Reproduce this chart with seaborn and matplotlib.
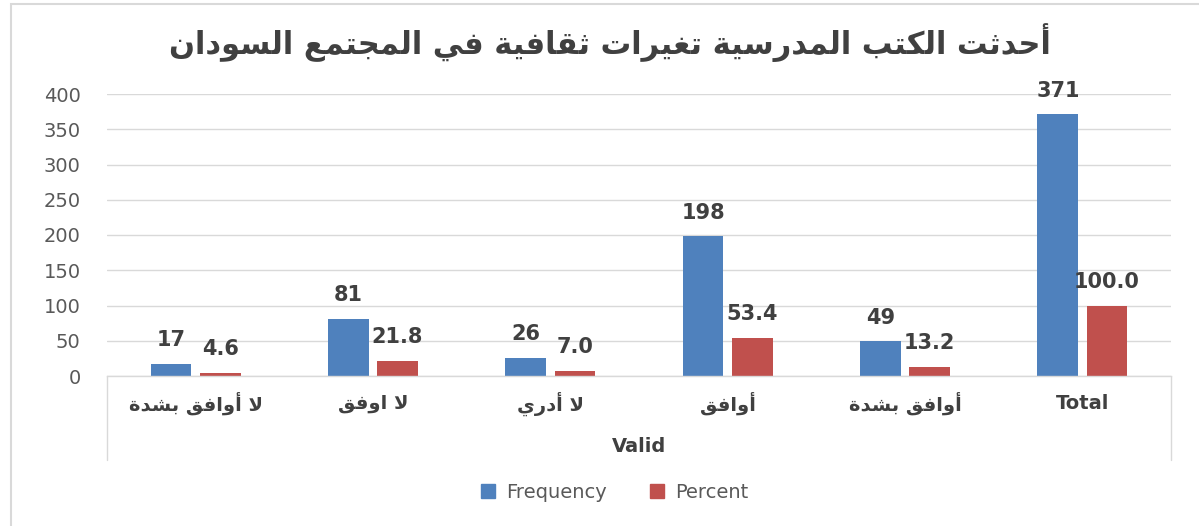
import matplotlib

matplotlib.use("Agg")
import matplotlib.pyplot as plt
import pandas as pd
import seaborn as sns
from matplotlib.patches import Patch, Rectangle


TITLE = "أحدثت الكتب المدرسية تغيرات ثقافية في المجتمع السودان"
CATEGORIES = ["لا أوافق بشدة", "لا اوفق", "لا أدري", "أوافق", "أوافق بشدة", "Total"]
FREQUENCY = [17, 81, 26, 198, 49, 371]
PERCENT = [4.6, 21.8, 7.0, 53.4, 13.2, 100.0]
SERIES = ["Frequency", "Percent"]
GROUP_LABEL = "Valid"
Y_TICKS = [0, 50, 100, 150, 200, 250, 300, 350, 400]

PALETTE = {"Frequency": "#4F81BD", "Percent": "#C0504D"}
DARK = "#404040"
MID = "#595959"
LINE = "#d9d9d9"

# matplotlib has no Arabic shaping, so map letters to their presentation
# forms by hand: letter -> (first form code, joins on both sides)
JOINING = {
    0x0622: (0xFE81, False), 0x0623: (0xFE83, False), 0x0624: (0xFE85, False),
    0x0625: (0xFE87, False), 0x0626: (0xFE89, True), 0x0627: (0xFE8D, False),
    0x0628: (0xFE8F, True), 0x0629: (0xFE93, False), 0x062A: (0xFE95, True),
    0x062B: (0xFE99, True), 0x062C: (0xFE9D, True), 0x062D: (0xFEA1, True),
    0x062E: (0xFEA5, True), 0x062F: (0xFEA9, False), 0x0630: (0xFEAB, False),
    0x0631: (0xFEAD, False), 0x0632: (0xFEAF, False), 0x0633: (0xFEB1, True),
    0x0634: (0xFEB5, True), 0x0635: (0xFEB9, True), 0x0636: (0xFEBD, True),
    0x0637: (0xFEC1, True), 0x0638: (0xFEC5, True), 0x0639: (0xFEC9, True),
    0x063A: (0xFECD, True), 0x0641: (0xFED1, True), 0x0642: (0xFED5, True),
    0x0643: (0xFED9, True), 0x0644: (0xFEDD, True), 0x0645: (0xFEE1, True),
    0x0646: (0xFEE5, True), 0x0647: (0xFEE9, True), 0x0648: (0xFEED, False),
    0x0649: (0xFEEF, False), 0x064A: (0xFEF1, True),
}
LAM_ALEF = {0x0622: 0xFEF5, 0x0623: 0xFEF7, 0x0625: 0xFEF9, 0x0627: 0xFEFB}


def rtl(text):
    if not any(ord(c) in JOINING for c in text):
        return text
    units = []
    i = 0
    while i < len(text):
        code = ord(text[i])
        nxt = ord(text[i + 1]) if i + 1 < len(text) else None
        if code == 0x0644 and nxt in LAM_ALEF:
            units.append((LAM_ALEF[nxt], False))
            i += 2
            continue
        units.append(JOINING.get(code, (text[i], None)))
        i += 1

    form = {(False, False): 0, (True, False): 1, (False, True): 2, (True, True): 3}
    out = []
    for k, (base, dual) in enumerate(units):
        if dual is None:
            out.append(base)
            continue
        joins_prev = k > 0 and units[k - 1][1] is True
        joins_next = dual and k + 1 < len(units) and units[k + 1][1] is not None
        out.append(chr(base + form[(joins_prev, joins_next)]))
    return "".join(reversed(out))


def main():
    df = pd.DataFrame(
        {
            "category": CATEGORIES * 2,
            "series": [SERIES[0]] * len(CATEGORIES) + [SERIES[1]] * len(CATEGORIES),
            "value": FREQUENCY + PERCENT,
        }
    )

    sns.set_style("white")
    plt.rcParams["font.family"] = ["DejaVu Sans"]

    fig = plt.figure(figsize=(11.99, 5.26), dpi=100)
    ax = fig.add_axes([107 / 1199, 1 - 376 / 526, (1171 - 107) / 1199, (376 - 94) / 526])

    sns.barplot(
        data=df,
        x="category",
        y="value",
        hue="series",
        order=CATEGORIES,
        hue_order=SERIES,
        palette=PALETTE,
        saturation=1,
        width=0.553,
        gap=0.17,
        errorbar=None,
        legend=False,
        linewidth=0,
        ax=ax,
    )

    for container, fmt in zip(ax.containers, ["{:.0f}", "{:.1f}"]):
        ax.bar_label(container, fmt=fmt, padding=10, fontsize=15,
                     fontweight="bold", color=DARK)

    ax.set_xlim(-0.5, len(CATEGORIES) - 0.5)
    ax.set_ylim(0, 400)
    ax.set_yticks(Y_TICKS)
    ax.yaxis.grid(True, color=LINE, linewidth=1)
    ax.set_axisbelow(True)
    ax.tick_params(axis="y", length=0, pad=19, labelsize=14, labelcolor=MID)
    ax.set_ylabel("")

    ax.set_xticks(range(len(CATEGORIES)))
    ax.set_xticklabels([rtl(c) for c in CATEGORIES], fontsize=14,
                       fontweight="bold", color=DARK)
    for label in ax.get_xticklabels():
        label.set_va("center")
    ax.tick_params(axis="x", length=0, pad=20)
    ax.set_xlabel(GROUP_LABEL, fontsize=14, fontweight="bold", color=DARK, va="center")
    ax.xaxis.set_label_coords(0.5, -(446 - 376) / 282)

    for side in ["left", "top", "right"]:
        ax.spines[side].set_visible(False)
    ax.spines["bottom"].set_color(LINE)
    ax.spines["bottom"].set_linewidth(1)
    for x in [0, 1]:
        ax.plot([x, x], [0, -(460 - 376) / 282], transform=ax.transAxes,
                color=LINE, linewidth=1, clip_on=False)

    fig.add_artist(Rectangle((11 / 1199, -0.05), 1.2, 1 - 4 / 526 + 0.05,
                             transform=fig.transFigure, fill=False,
                             edgecolor=LINE, linewidth=1.5))

    fig.text(610 / 1199, 1 - 43 / 526, rtl(TITLE), ha="center", va="center",
             fontsize=22, fontweight="bold", color=DARK)

    handles = [Patch(color=PALETTE[s], label=s) for s in SERIES]
    fig.legend(handles=handles, loc="center", bbox_to_anchor=(615 / 1199, 1 - 492 / 526),
               ncol=2, frameon=False, fontsize=14, labelcolor=MID,
               handlelength=0.7, handleheight=0.7, handletextpad=0.6,
               columnspacing=2.2)

    fig.savefig("out.png", dpi=100)


if __name__ == "__main__":
    main()
